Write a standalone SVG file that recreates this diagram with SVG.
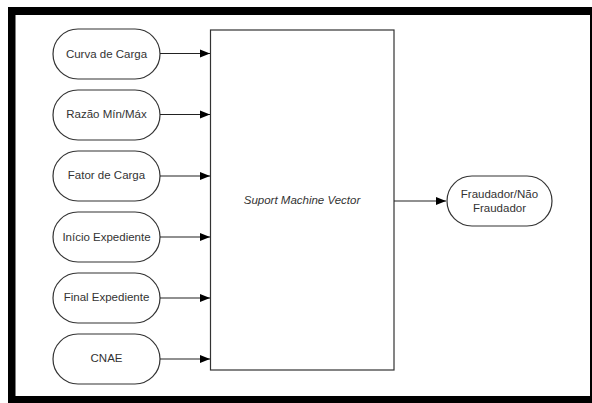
<svg xmlns="http://www.w3.org/2000/svg" width="592" height="403" viewBox="0 0 592 403">
<defs>
<marker id="ah" viewBox="0 0 10 10" refX="10" refY="5" markerWidth="10" markerHeight="10" markerUnits="userSpaceOnUse" orient="auto">
<path d="M0,1 L10,5 L0,9 Z" fill="#000"/>
</marker>
<style>
.n{fill:#fff;stroke:#333;stroke-width:1.2}
.t{font-family:"Liberation Sans",Arial,sans-serif;font-size:11.5px;fill:#333;text-anchor:middle}
.c{stroke:#222;stroke-width:1.2;fill:none;marker-end:url(#ah)}
</style>
</defs>
<rect width="592" height="403" fill="#fff"/>
<path d="M8,7 H592 V403 H8 Z M15.5,15 V396 H590 V15 Z" fill="#000" fill-rule="evenodd"/>
<g id="svm">
<rect x="210.5" y="30" width="183.5" height="340" class="n"/>
<text x="302" y="204" class="t" font-style="italic">Suport Machine Vector</text>
</g>
<g id="n1"><rect x="53" y="29" width="107" height="50" rx="25" class="n"/><text x="106.5" y="58" class="t">Curva de Carga</text></g>
<g id="n2"><rect x="53" y="90" width="107" height="50" rx="25" class="n"/><text x="106.5" y="118" class="t">Razão Mín/Máx</text></g>
<g id="n3"><rect x="53" y="151" width="107" height="50" rx="25" class="n"/><text x="106.5" y="179" class="t">Fator de Carga</text></g>
<g id="n4"><rect x="53" y="212" width="107" height="50" rx="25" class="n"/><text x="106.5" y="240.5" class="t">Início Expediente</text></g>
<g id="n5"><rect x="53" y="273" width="107" height="50" rx="25" class="n"/><text x="106.5" y="301" class="t">Final Expediente</text></g>
<g id="n6"><rect x="53" y="334" width="107" height="50" rx="25" class="n"/><text x="106.5" y="362" class="t">CNAE</text></g>
<g id="out"><rect x="447" y="176" width="105" height="50" rx="25" class="n"/><text x="499.5" y="198" class="t">Fraudador/Não</text><text x="499.5" y="212" class="t">Fraudador</text></g>
<g id="connectors">
<line x1="160" y1="53.5" x2="210" y2="53.5" class="c"/>
<line x1="160" y1="114.5" x2="210" y2="114.5" class="c"/>
<line x1="160" y1="176" x2="210" y2="176" class="c"/>
<line x1="160" y1="237" x2="210" y2="237" class="c"/>
<line x1="160" y1="298" x2="210" y2="298" class="c"/>
<line x1="160" y1="359" x2="210" y2="359" class="c"/>
<line x1="394" y1="201" x2="446" y2="201" class="c"/>
</g>
</svg>
